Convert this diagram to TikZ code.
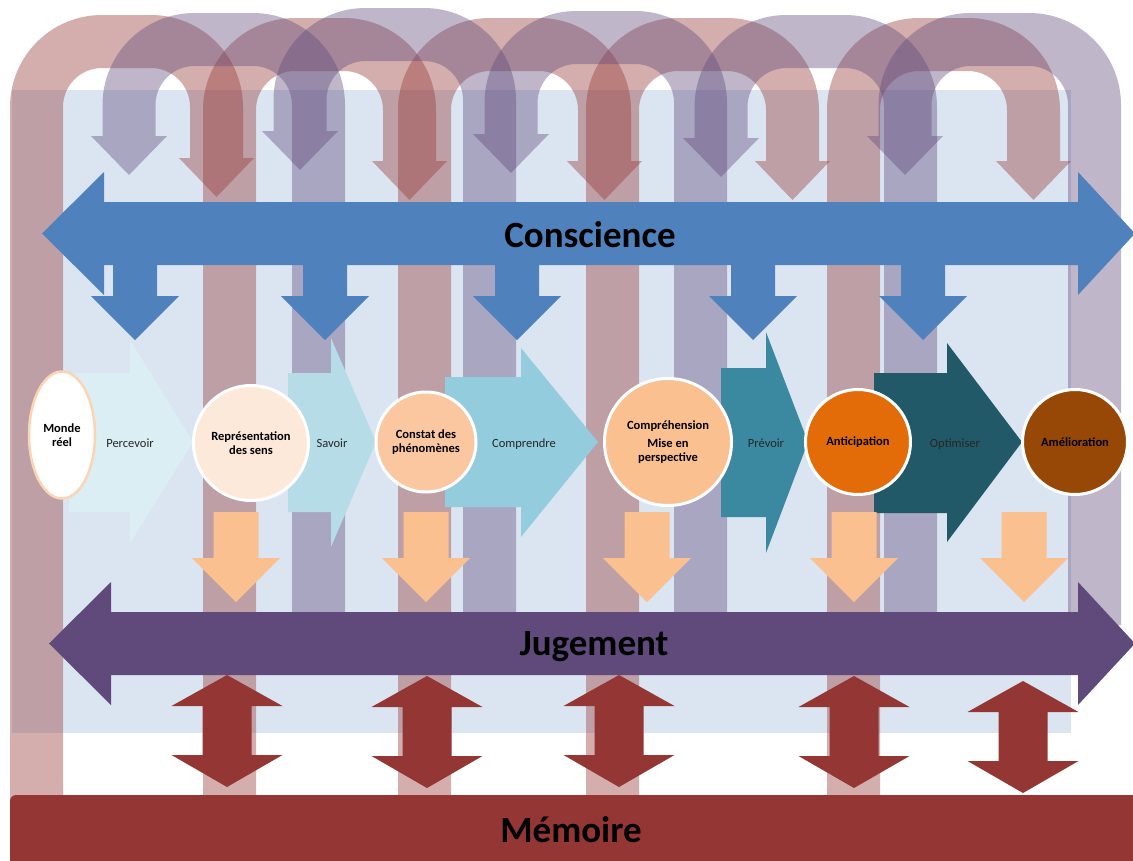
\documentclass[tikz,border=0pt]{standalone}
\usepackage{fontspec}
\setmainfont{Carlito}
\usepackage{xcolor}
\usetikzlibrary{shapes.geometric,positioning}

\definecolor{fond}{HTML}{DBE5F1}
\definecolor{brique}{HTML}{943634}
\definecolor{prune}{HTML}{5F497A}
\definecolor{azur}{HTML}{4F81BD}
\definecolor{mauve}{HTML}{604A7B}
\definecolor{peche}{HTML}{FAC090}
\definecolor{pechepale}{HTML}{FDE9D9}
\definecolor{pechemoy}{HTML}{FBC7A0}
\definecolor{bordmonde}{HTML}{FBD4B4}
\definecolor{orangevif}{HTML}{E36C09}
\definecolor{brun}{HTML}{974706}
\definecolor{cielA}{HTML}{DBEEF4}
\definecolor{cielB}{HTML}{B5DCE7}
\definecolor{cielC}{HTML}{93CDDD}
\definecolor{sarcelle}{HTML}{3A89A0}
\definecolor{sarcellef}{HTML}{215968}
\definecolor{encre}{HTML}{262626}

\begin{document}
\begin{tikzpicture}[x=1pt, y=-1pt,
  boucle/.style={fill opacity=0.4},
  rond/.style={circle, draw=white, line width=3pt, align=center, inner sep=1pt, font=\fontsize{12.5}{14}\selectfont\bfseries},
  verbe/.style={font=\fontsize{12.5}{14}\selectfont, text=encre, anchor=base, inner sep=0pt},
  titre/.style={font=\fontsize{37}{40}\selectfont\bfseries, anchor=base, inner sep=0pt}
]
\useasboundingbox (0,0) rectangle (1133,860);
\clip (0,0) rectangle (1133,860);
\fill[white] (0,0) rectangle (1133,860);
\fill[fond] (12,90) rectangle (1071,733);

% boucles rouges et violettes
\foreach \x/\d in {10/0,203/3,398/3,586/3,827/3}
  \fill[brique, boucle, shift={(\x,\d)}] (0,800) -- (0,107) arc (180:270:92) -- (141,15) arc (270:360:92)
    -- (233,158) -- (244,158) -- (206.5,197) -- (169,158) -- (180,158) -- (180,107) arc (0:-90:39)
    -- (92,68) arc (270:180:39) -- (53,800) -- cycle;
\foreach \x/\d in {102.5/0,273.5/-5,484.5/-2,694.5/2,878.5/0}
  \fill[prune, boucle, shift={(\x,\d)}] (0,136) -- (0,105) arc (180:270:92) -- (150.5,13) arc (270:360:92)
    -- (242.5,625) -- (189.5,625) -- (189.5,105) arc (0:-90:39) -- (92,66) arc (270:180:39)
    -- (53,136) -- (64.5,136) -- (26.5,175) -- (-11.5,136) -- cycle;

% conscience
\fill[azur] (42,233.5) -- (104,172) -- (104,202) -- (1078,202) -- (1078,172) -- (1135,233.5)
  -- (1078,295) -- (1078,265) -- (104,265) -- (104,295) -- cycle;
\foreach \x in {135,325,517,753,923}
  \fill[azur, shift={(\x,0)}] (-22,260) -- (22,260) -- (22,296) -- (44,296) -- (0,340) -- (-44,296) -- (-22,296) -- cycle;
\node[titre] (conscience) at (590,247) {Conscience};

% chevrons
\fill[cielA] (69,373) -- (130,373) -- (130,340) -- (193,442) -- (130,543) -- (130,512) -- (69,512) -- cycle;
\fill[cielB] (288,373) -- (331,373) -- (331,338) -- (376,442) -- (331,547) -- (331,512) -- (288,512) -- cycle;
\fill[cielC] (445,377) -- (521,377) -- (521,348) -- (598,442) -- (521,537) -- (521,507) -- (445,507) -- cycle;
\fill[sarcelle] (721,368) -- (766,368) -- (766,332) -- (808,442) -- (766,553) -- (766,517) -- (721,517) -- cycle;
\fill[sarcellef] (874,373) -- (947,373) -- (947,343) -- (1022,442) -- (947,542) -- (947,513) -- (874,513) -- cycle;
\node[verbe] (percevoir) at (130,447) {Percevoir};
\node[verbe] (savoir) at (332,447) {Savoir};
\node[verbe] (comprendre) at (524,447) {Comprendre};
\node[verbe] (prevoir) at (766,447) {Prévoir};
\node[verbe] (optimiser) at (955,447) {Optimiser};

% etapes
\node[ellipse, draw=bordmonde, fill=white, line width=2.5pt, minimum width=66pt, minimum height=127pt, align=center, inner sep=1pt, font=\fontsize{12.5}{14}\selectfont\bfseries] (monde) at (62,435) {Monde\\réel};
\node[rond, fill=pechepale, minimum size=115pt] (representation) at (251,443) {Représentation\\des sens};
\node[rond, fill=pechemoy, minimum size=100pt] (constat) at (426,442) {Constat des\\phénomènes};
\node[rond, fill=peche, minimum size=127pt] (comprehension) at (668,442) {Compréhension\\[4pt]Mise en\\perspective};
\node[rond, fill=orangevif, minimum size=105pt] (anticipation) at (858,442) {Anticipation};
\node[rond, fill=brun, minimum size=105pt] (amelioration) at (1075,442) {Amélioration};
\foreach \x in {236,426,647,854,1024}
  \fill[peche, shift={(\x,0)}] (-22.5,512) -- (22.5,512) -- (22.5,558) -- (44,558) -- (0,602) -- (-44,558) -- (-22.5,558) -- cycle;

% jugement et memoire
\fill[mauve] (49,643.5) -- (111,582) -- (111,612) -- (1078,612) -- (1078,582) -- (1135,643.5)
  -- (1078,705) -- (1078,675) -- (111,675) -- (111,705) -- cycle;
\node[titre] (jugement) at (594,655) {Jugement};
\foreach \x/\d in {227/0,427/1,619/0,854/1,1023/6}
  \fill[brique, shift={(\x,\d)}] (0,675) -- (55.5,706) -- (24.5,706) -- (24.5,755) -- (55.5,755) -- (0,787)
    -- (-55.5,755) -- (-24.5,755) -- (-24.5,706) -- (-55.5,706) -- cycle;
\fill[brique, rounded corners=6pt] (10,795) rectangle (1160,900);
\node[titre] (memoire) at (571,842) {Mémoire};
\end{tikzpicture}
\end{document}
